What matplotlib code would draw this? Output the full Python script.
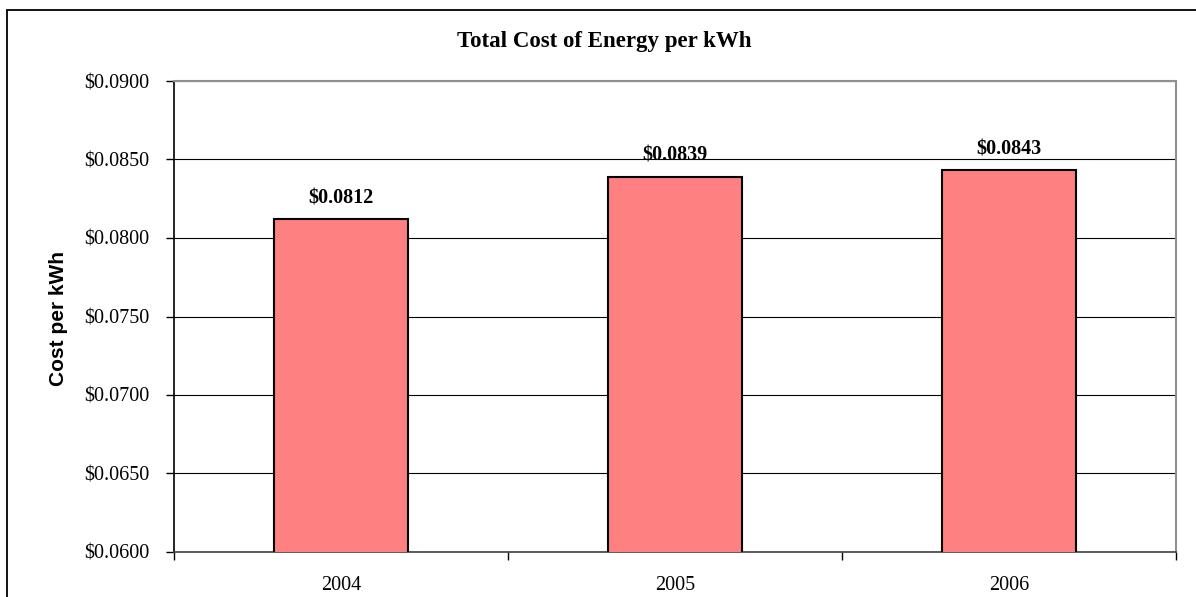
import matplotlib.pyplot as plt
from matplotlib.patches import Rectangle
from matplotlib.ticker import FuncFormatter, FixedLocator

years = ["2004", "2005", "2006"]
cost_per_kwh = [0.0812, 0.0839, 0.0843]
y_ticks = [0.0600, 0.0650, 0.0700, 0.0750, 0.0800, 0.0850, 0.0900]

W, H = 1196, 597
fig = plt.figure(figsize=(W / 100, H / 100), dpi=100)
fig.patch.set_facecolor("white")

# chart area border (runs off the right and bottom edges)
fig.patches.append(Rectangle((7 / W, -0.1), 1.2, 1.1 - 10 / H, transform=fig.transFigure,
                             fill=False, edgecolor="black", linewidth=1.3, zorder=0))

left, right, top, bottom = 174, 1176, 81, 552
ax = fig.add_axes([left / W, 1 - bottom / H, (right - left) / W, (bottom - top) / H])

x = range(len(years))
ax.bar(x, cost_per_kwh, width=0.4, color="#FF8080", edgecolor="black", linewidth=1.5, zorder=3)
for i, v in enumerate(cost_per_kwh):
    ax.annotate(f"${v:.4f}", (i, v), xytext=(0, 8), textcoords="offset points",
                ha="center", va="bottom", fontsize=14.5, fontweight="bold",
                family="Liberation Serif")

ax.set_xlim(-0.5, len(years) - 0.5)
ax.set_ylim(0.06, 0.09)
ax.set_yticks(y_ticks)
ax.yaxis.set_major_formatter(FuncFormatter(lambda v, p: f"${v:.4f}"))
ax.yaxis.grid(True, color="black", linewidth=0.8, zorder=0)
ax.set_axisbelow(True)

ax.set_xticks(list(x))
ax.set_xticklabels(years)
ax.xaxis.set_minor_locator(FixedLocator([-0.5, 0.5, 1.5, 2.5]))
ax.tick_params(axis="x", which="major", length=0, pad=17)
ax.tick_params(axis="x", which="minor", length=6, width=1, color="black")
ax.tick_params(axis="y", length=6, width=1, pad=12)
for lab in ax.get_xticklabels() + ax.get_yticklabels():
    lab.set_fontfamily("Liberation Serif")
    lab.set_fontsize(14.5)

ax.spines["left"].set_color("black")
ax.spines["left"].set_linewidth(1.2)
ax.spines["bottom"].set_color("#404040")
ax.spines["bottom"].set_linewidth(1.2)
ax.spines["top"].set_color("#909090")
ax.spines["top"].set_linewidth(1.5)
ax.spines["right"].set_color("#909090")
ax.spines["right"].set_linewidth(1.5)

fig.text(58 / W, 1 - 318 / H, "Cost per kWh", rotation=90, ha="center", va="center",
         fontsize=15, fontweight="bold", family="Liberation Sans")
fig.text(604 / W, 1 - 42 / H, "Total Cost of Energy per kWh",
         ha="center", va="center", fontsize=16.5, fontweight="bold", family="Liberation Serif")

fig.savefig("out.png", dpi=100)
